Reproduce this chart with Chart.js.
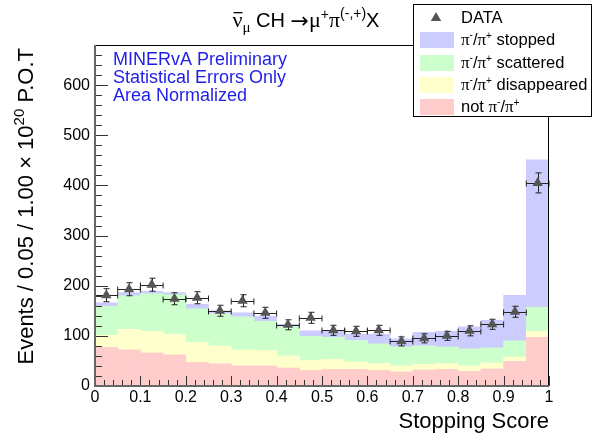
<!DOCTYPE html>
<html>
<head>
<meta charset="utf-8">
<title>Stopping Score</title>
<script src="https://cdn.jsdelivr.net/npm/chart.js@4.4.1/dist/chart.umd.min.js"></script>
<style>
    html, body { margin: 0; padding: 0; background: #fff; }
</style>
</head>
<body>
<canvas id="score" width="593" height="439"></canvas>
<script>
(function () {
    "use strict";

    // Bins of the stopping score histogram
    var binCenters = [0.025, 0.075, 0.125, 0.175, 0.225, 0.275, 0.325, 0.375, 0.425, 0.475,
                      0.525, 0.575, 0.625, 0.675, 0.725, 0.775, 0.825, 0.875, 0.925, 0.975];
    var binHalfWidth = 0.025;

    var xTickLabels = ['0', '0.1', '0.2', '0.3', '0.4', '0.5', '0.6', '0.7', '0.8', '0.9', '1'];
    var yTickLabels = ['0', '100', '200', '300', '400', '500', '600'];

    // MC components (stacked, bottom to top)
    var notPion       = [77, 72, 66, 62, 47, 44, 40, 40, 36, 31, 33, 33, 31, 28, 32, 33, 29, 34, 49, 97];
    var piDisappeared = [24, 41, 43, 41, 40, 36, 32, 31, 24, 20, 20, 15, 14, 12, 11, 12, 11, 12, 9, 12];
    var piScattered   = [58, 67, 75, 79, 67, 64, 66, 58, 58, 48, 44, 43, 39, 38, 37, 33, 34, 30, 32, 48];
    var piStopped     = [7, 6, 5, 4, 9, 6, 8, 10, 5, 11, 12, 12, 19, 16, 27, 31, 44, 55, 91, 294];

    // Data with statistical errors
    var dataCounts = [181, 193, 202, 174, 176, 150, 170, 146, 122, 136, 111, 109, 111, 89, 95, 100, 110, 123, 148, 405];
    var dataErrors = [13, 13, 13, 12, 12, 11, 12, 11, 10, 11, 10, 10, 10, 9, 9, 9, 10, 10, 11, 20];

    var colStopped = '#ccccff';
    var colScattered = '#ccffcc';
    var colDisappeared = '#ffffcc';
    var colNotPion = '#ffcccc';
    var colData = '#555555';

    var SANS = '"Liberation Sans", Arial, Helvetica, sans-serif';
    var SERIF = '"Liberation Serif", "Times New Roman", serif';

    function points(vals) {
        return binCenters.map(function (x, i) { return {x: x, y: vals[i]}; });
    }

    function mcBars(label, vals, color) {
        return {
            type: 'bar',
            label: label,
            data: points(vals),
            backgroundColor: color,
            borderWidth: 0,
            barPercentage: 1,
            categoryPercentage: 1,
            stack: 'mc',
            order: 1
        };
    }

    // draw a run of text pieces (for sub/superscripts), returns the width
    function richText(ctx, pieces, x, y, measureOnly) {
        var cx = x;
        pieces.forEach(function (p) {
            ctx.font = p.font;
            var w = ctx.measureText(p.t).width;
            if (!measureOnly) {
                ctx.fillText(p.t, cx, y + (p.dy || 0));
                if (p.bar) {
                    ctx.fillRect(cx + 1, y - p.bar, w - 1, 1.3);
                }
            }
            cx += w;
        });
        return cx - x;
    }

    function triangle(ctx, x, y, r) {
        ctx.beginPath();
        for (var k = 0; k < 3; k++) {
            var a = k * 2 * Math.PI / 3;
            var px = x + Math.sin(a) * r, py = y - Math.cos(a) * r;
            if (k === 0) ctx.moveTo(px, py); else ctx.lineTo(px, py);
        }
        ctx.closePath();
        ctx.fill();
    }

    function pionLabel(rest) {
        return [
            {t: 'π', font: '17px ' + SERIF},
            {t: '-', font: '10px ' + SANS, dy: -7},
            {t: '/', font: '16.5px ' + SANS},
            {t: 'π', font: '17px ' + SERIF},
            {t: '+', font: '10px ' + SANS, dy: -6},
            {t: rest, font: '16.5px ' + SANS}
        ];
    }

    var rootStyle = {
        id: 'rootStyle',
        beforeDatasetDraw: function (chart, args) {
            if (args.index !== 0) return;
            var ctx = chart.ctx, xs = chart.scales.x, ys = chart.scales.y;
            ctx.save();
            ctx.strokeStyle = '#222';
            ctx.lineWidth = 1;
            ctx.beginPath();
            dataCounts.forEach(function (v, i) {
                var px = Math.round(xs.getPixelForValue(binCenters[i])) + 0.5;
                var py = Math.round(ys.getPixelForValue(v)) + 0.5;
                var top = ys.getPixelForValue(v + dataErrors[i]);
                var bot = ys.getPixelForValue(v - dataErrors[i]);
                var left = xs.getPixelForValue(binCenters[i] - binHalfWidth);
                var right = xs.getPixelForValue(binCenters[i] + binHalfWidth);
                ctx.moveTo(px, top); ctx.lineTo(px, bot);
                ctx.moveTo(px - 3, top); ctx.lineTo(px + 3, top);
                ctx.moveTo(px - 3, bot); ctx.lineTo(px + 3, bot);
                ctx.moveTo(left, py); ctx.lineTo(right, py);
                ctx.moveTo(left, py - 3); ctx.lineTo(left, py + 3);
                ctx.moveTo(right, py - 3); ctx.lineTo(right, py + 3);
            });
            ctx.stroke();
            ctx.restore();
        },
        afterDraw: function (chart) {
            var ctx = chart.ctx, a = chart.chartArea;
            var xs = chart.scales.x, ys = chart.scales.y;
            var k, p;
            ctx.save();

            // frame
            ctx.strokeStyle = '#000';
            ctx.lineWidth = 1;
            ctx.beginPath();
            ctx.moveTo(a.left, a.top + 0.5); ctx.lineTo(a.right, a.top + 0.5);
            ctx.moveTo(a.right - 0.5, a.top); ctx.lineTo(a.right - 0.5, a.bottom);
            ctx.stroke();

            // ticks inside the frame
            ctx.strokeStyle = '#333';
            ctx.beginPath();
            for (k = 0; k <= 50; k++) {
                p = Math.round(xs.getPixelForValue(k / 50)) + 0.5;
                ctx.moveTo(p, a.bottom);
                ctx.lineTo(p, a.bottom - (k % 5 === 0 ? 10 : 6));
            }
            for (k = 0; k < 34; k++) {
                p = Math.round(ys.getPixelForValue(k * 20)) + 0.5;
                ctx.moveTo(a.left, p);
                ctx.lineTo(a.left + (k % 5 === 0 ? 13 : 7), p);
            }
            ctx.stroke();

            // axes
            ctx.strokeStyle = '#666';
            ctx.lineWidth = 2;
            ctx.beginPath();
            ctx.moveTo(a.left, a.top); ctx.lineTo(a.left, a.bottom);
            ctx.lineTo(a.right, a.bottom);
            ctx.stroke();

            ctx.fillStyle = '#000';
            ctx.textBaseline = 'alphabetic';
            ctx.textAlign = 'left';

            // title
            var title = [
                {t: 'ν', font: '22px ' + SERIF, bar: 15},
                {t: 'μ', font: '15px ' + SERIF, dy: 5},
                {t: ' CH ', font: '20px ' + SANS},
                {t: '→', font: '22px "DejaVu Sans", ' + SANS, dy: 1},
                {t: 'μ', font: '22px ' + SERIF},
                {t: '+', font: '14px ' + SANS, dy: -8},
                {t: 'π', font: '22px ' + SERIF},
                {t: '(-,+)', font: '14px ' + SANS, dy: -9},
                {t: 'X', font: '20px ' + SANS}
            ];
            var tw = richText(ctx, title, 0, 0, true);
            richText(ctx, title, 306 - tw / 2, 27);

            // x axis title
            ctx.font = '22px ' + SANS;
            ctx.textAlign = 'right';
            ctx.fillText('Stopping Score', a.right, 428);
            ctx.textAlign = 'left';

            // y axis title, right aligned to the top of the frame
            var ytitle = [
                {t: 'Events / 0.05 / 1.00 × 10', font: '22px ' + SANS},
                {t: '20', font: '15px ' + SANS, dy: -9},
                {t: ' P.O.T', font: '22px ' + SANS}
            ];
            ctx.save();
            ctx.translate(33, 48);
            ctx.rotate(-Math.PI / 2);
            var yw = richText(ctx, ytitle, 0, 0, true);
            richText(ctx, ytitle, -yw, 0);
            ctx.restore();

            // labels
            ctx.fillStyle = '#1e1ee8';
            ctx.font = '18px ' + SANS;
            ctx.fillText('MINERvA Preliminary', 113, 65);
            ctx.fillText('Statistical Errors Only', 113, 83);
            ctx.fillText('Area Normalized', 113, 101);

            // legend box
            ctx.fillStyle = '#fff';
            ctx.fillRect(413, 4, 179, 112);
            ctx.strokeStyle = '#000';
            ctx.lineWidth = 1;
            ctx.strokeRect(413.5, 4.5, 178, 112);

            ctx.fillStyle = colData;
            triangle(ctx, 436, 18, 6);
            ctx.fillStyle = '#000';
            ctx.font = '16.5px ' + SANS;
            ctx.fillText('DATA', 461, 23);

            var rows = [
                {c: colStopped, txt: ' stopped', y: 40},
                {c: colScattered, txt: ' scattered', y: 63},
                {c: colDisappeared, txt: ' disappeared', y: 85},
                {c: colNotPion, txt: null, y: 107}
            ];
            rows.forEach(function (r) {
                ctx.fillStyle = r.c;
                ctx.fillRect(420, r.y - 8, 34, 16);
                ctx.fillStyle = '#000';
                if (r.txt) {
                    richText(ctx, pionLabel(r.txt), 461, r.y + 5);
                } else {
                    var w0 = richText(ctx, [{t: 'not ', font: '16.5px ' + SANS}], 461, r.y + 5);
                    richText(ctx, pionLabel(''), 461 + w0, r.y + 5);
                }
            });

            ctx.restore();
        }
    };

    var ctx = document.getElementById('score').getContext('2d');
    var chart = new Chart(ctx, {
        type: 'bar',
        data: {
            datasets: [
                {
                    type: 'scatter',
                    label: 'DATA',
                    data: points(dataCounts),
                    pointStyle: 'triangle',
                    pointRadius: 6,
                    backgroundColor: colData,
                    borderColor: colData,
                    borderWidth: 0,
                    order: 0
                },
                mcBars('not π-/π+', notPion, colNotPion),
                mcBars('π-/π+ disappeared', piDisappeared, colDisappeared),
                mcBars('π-/π+ scattered', piScattered, colScattered),
                mcBars('π-/π+ stopped', piStopped, colStopped)
            ]
        },
        options: {
            responsive: false,
            animation: false,
            layout: {padding: {top: 45, right: 44, left: 0, bottom: 0}},
            plugins: {
                legend: {display: false},
                title: {display: false},
                tooltip: {enabled: false}
            },
            scales: {
                x: {
                    type: 'linear',
                    min: 0,
                    max: 1,
                    offset: false,
                    grid: {display: false, drawTicks: false},
                    border: {display: false},
                    ticks: {
                        stepSize: 0.1,
                        autoSkip: false,
                        maxRotation: 0,
                        padding: 2,
                        color: '#000',
                        font: {family: SANS, size: 16},
                        callback: function (v, i) { return xTickLabels[i]; }
                    },
                    afterFit: function (s) { s.height = 53; }
                },
                y: {
                    min: 0,
                    max: 680,
                    grid: {display: false, drawTicks: false},
                    border: {display: false},
                    ticks: {
                        stepSize: 100,
                        includeBounds: false,
                        padding: 5,
                        color: '#000',
                        font: {family: SANS, size: 16},
                        callback: function (v, i) { return yTickLabels[i]; }
                    },
                    afterFit: function (s) { s.width = 95; }
                }
            }
        },
        plugins: [rootStyle]
    });
})();
</script>
</body>
</html>
